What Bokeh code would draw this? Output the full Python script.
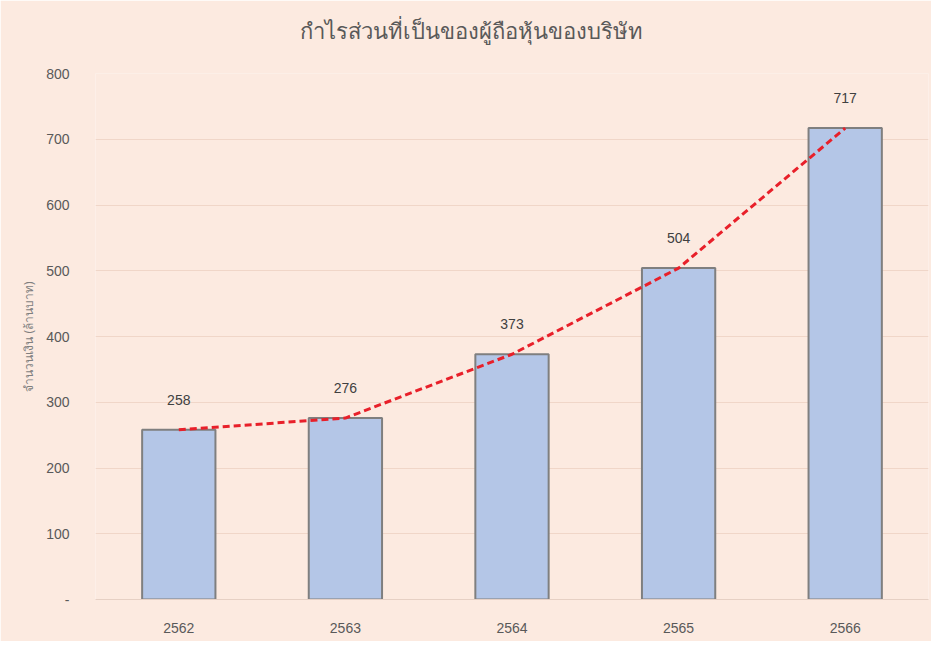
from bokeh.plotting import figure
from bokeh.models import ColumnDataSource, LabelSet, Range1d, FixedTicker, Title
from bokeh.core.properties import value
from bokeh.embed import file_html
from bokeh.resources import INLINE

years = ["2562", "2563", "2564", "2565", "2566"]
profit = [258, 276, 373, 504, 717]
y_ticks = [0, 100, 200, 300, 400, 500, 600, 700, 800]
title_text = "กำไรส่วนที่เป็นของผู้ถือหุ้นของบริษัท"
y_label = "จำนวนเงิน (ล้านบาท)"

BG = "#fceae0"
src = ColumnDataSource(dict(x=years, y=profit, lab=[str(v) for v in profit]))

p = figure(x_range=years, y_range=Range1d(0, 800), width=931, height=641,
           output_backend="svg", toolbar_location=None,
           min_border_left=95, min_border_right=3, min_border_top=73, min_border_bottom=42)
p.background_fill_color = BG
p.border_fill_color = BG
p.outline_line_color = None

spacer = Title(text=" ", standoff=0, text_font_size="16px", text_font="Noto Sans",
               text_color=BG)
p.add_layout(spacer, "above")
t = Title(text=title_text, align="left", offset=204, standoff=10,
          text_font_size="22px", text_color="#595959", text_font="Noto Sans",
          text_font_style="normal")
p.add_layout(t, "above")

p.vbar(x="x", top="y", width=0.44, source=src, fill_color="#b4c6e7",
       line_color="#7f7f7f", line_width=2)
p.line(x="x", y="y", source=src, line_color="#e8202a", line_width=3, line_dash="7 4")

labels = LabelSet(x="x", y="y", text="lab", source=src, y_offset=30,
                  text_align="center", text_baseline="middle",
                  text_font_size=value("14px"), text_color=value("#404040"),
                  text_font=value("Liberation Sans"))
p.add_layout(labels)

p.xgrid.grid_line_color = None
p.ygrid.grid_line_color = "#f0d6c8"
p.ygrid.grid_line_width = 1
p.yaxis.ticker = FixedTicker(ticks=y_ticks)
p.yaxis.major_label_overrides = {0: "-"}
p.yaxis.axis_line_color = None
p.yaxis.major_tick_line_color = None
p.yaxis.minor_tick_line_color = None
p.yaxis.major_label_standoff = 20
p.yaxis.major_label_text_font = "Liberation Sans"
p.yaxis.major_label_text_font_size = "14px"
p.yaxis.major_label_text_color = "#595959"
p.yaxis.axis_label = y_label
p.yaxis.axis_label_text_font = "Noto Sans"
p.yaxis.axis_label_text_font_size = "12px"
p.yaxis.axis_label_text_font_style = "normal"
p.yaxis.axis_label_text_color = "#7f7f7f"
p.yaxis.axis_label_standoff = 6

p.xaxis.axis_line_color = "#e6d0c4"
p.xaxis.major_tick_line_color = None
p.xaxis.minor_tick_line_color = None
p.xaxis.major_label_standoff = 17
p.xaxis.major_label_text_font = "Liberation Sans"
p.xaxis.major_label_text_font_size = "14px"
p.xaxis.major_label_text_color = "#595959"

open("out.html", "w").write(file_html(p, INLINE))
